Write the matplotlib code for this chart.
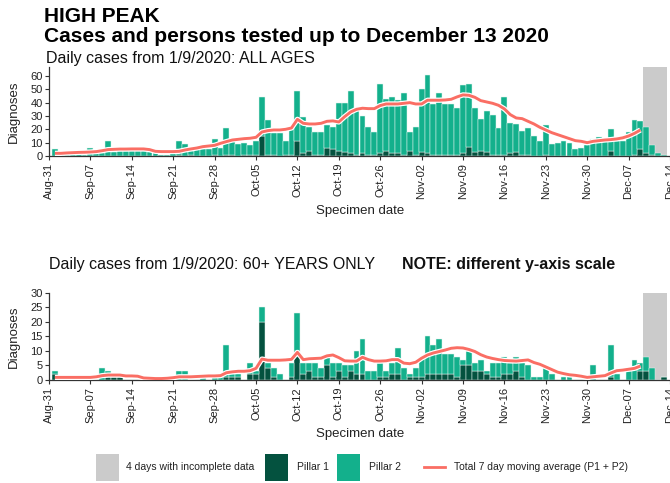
import matplotlib
matplotlib.use("Agg")
import matplotlib.pyplot as plt
import matplotlib.dates as mdates
import matplotlib.patheffects as pe
from matplotlib.patches import Rectangle
from matplotlib.lines import Line2D
import pandas as pd
import numpy as np

plt.rcParams["font.family"] = ["Liberation Sans", "DejaVu Sans"]

# Specimen dates: 1 Sep 2020 .. 13 Dec 2020
dates = pd.date_range("2020-09-01", "2020-12-13", freq="D")

# ---- All ages ----
all_total = [
    5, 2, 1, 2, 2, 1, 6, 2, 2, 11, 3, 4, 4, 4, 4, 4, 3, 2, 1, 1, 2,
    11, 9, 4, 5, 5, 5, 13, 6, 21, 13, 9, 10, 8, 11,
    44, 27, 17, 17, 11, 20, 49, 29, 22, 18, 18, 23, 22,
    40, 40, 49, 35, 30, 22, 18, 54, 43, 44, 42, 47, 18, 22,
    50, 61, 39, 47, 39, 39, 36, 53, 54, 36, 28, 34, 31, 21,
    44, 25, 24, 19, 21, 15, 11, 23, 9, 10, 11, 10, 5, 6,
    8, 13, 14, 11, 20, 11, 11, 18, 27, 26, 22, 8, 2, 1,
]
all_pillar1 = [
    0, 0, 0, 0, 0, 0, 0, 0, 0, 0, 0, 0, 0, 0, 0, 0, 0, 0, 0, 0, 0,
    1, 0, 1, 0, 0, 0, 1, 0, 1, 1, 0, 1, 1, 1,
    15, 1, 1, 0, 1, 1, 11, 2, 4, 1, 1, 6, 5,
    4, 3, 2, 1, 2, 1, 1, 2, 4, 2, 2, 1, 4, 1,
    3, 2, 1, 1, 1, 1, 1, 2, 7, 3, 4, 3, 1, 1,
    1, 2, 3, 1, 1, 0, 0, 1, 0, 0, 0, 0, 0, 0,
    0, 0, 0, 0, 4, 0, 0, 0, 1, 5, 2, 1, 0, 0,
]
all_avg = [
    2.0, 2.0, 2.3, 2.5, 2.7, 2.8, 3.0, 3.3, 4.0, 4.8, 5.0, 5.2, 5.2, 5.3,
    5.3, 5.3, 4.8, 3.5, 3.3, 3.3, 3.3, 3.5, 4.5, 5.3, 6.0, 7.0, 7.5, 8.0,
    9.5, 10.8, 12.0, 12.5, 13.0, 13.3, 14.0, 18.0, 19.0, 19.5, 19.5, 20.0,
    21.0, 27.5, 24.5, 24.0, 24.0, 24.5, 26.0, 26.3, 25.5, 29.5, 33.0, 35.0,
    35.8, 35.5, 35.5, 37.8, 39.0, 39.0, 39.0, 39.5, 40.0, 39.0, 39.0, 41.8,
    41.8, 41.8, 42.0, 42.5, 44.3, 45.8, 45.5, 44.0, 41.5, 40.5, 39.5, 38.0,
    35.3, 31.0, 28.5, 28.0, 26.0, 24.0, 21.5, 19.5, 17.5, 16.0, 14.5, 13.0,
    11.5, 11.0, 10.0, 11.0, 11.5, 12.0, 12.3, 12.8, 13.6, 15.0, 17.0, 19.5,
]

# ---- 60+ years ----
old_total = [
    3, 0, 0, 0, 0, 0, 0, 0, 4, 3, 1, 1, 0, 0, 0, 0, 0, 0, 0, 0, 0,
    3, 3, 0, 0, 1, 0, 1, 1, 12, 2, 2, 0, 6, 3,
    25, 6, 4, 2, 0, 6, 23, 6, 6, 6, 4, 8, 6,
    6, 5, 5, 10, 14, 3, 3, 6, 3, 6, 11, 4, 2, 4,
    8, 15, 12, 14, 9, 9, 8, 7, 10, 6, 7, 3, 6, 6,
    8, 6, 8, 6, 5, 1, 1, 4, 2, 0, 1, 1, 0, 0,
    0, 5, 0, 0, 12, 2, 0, 3, 7, 6, 8, 4, 0, 1,
]
old_pillar1 = [
    2, 0, 0, 0, 0, 0, 0, 0, 0, 1, 1, 1, 0, 0, 0, 0, 0, 0, 0, 0, 0,
    0, 0, 0, 0, 0, 0, 0, 0, 1, 1, 1, 0, 2, 2,
    20, 4, 1, 0, 0, 1, 10, 2, 3, 1, 1, 5, 1,
    3, 1, 3, 2, 2, 0, 0, 1, 1, 2, 2, 0, 1, 1,
    1, 2, 2, 2, 2, 2, 1, 5, 5, 3, 3, 2, 1, 1,
    2, 2, 3, 1, 0, 0, 0, 0, 0, 0, 0, 0, 0, 0,
    0, 0, 0, 0, 1, 0, 0, 0, 0, 3, 3, 0, 0, 1,
]
old_avg = [
    0.9, 0.9, 0.9, 0.9, 0.9, 0.9, 0.9, 1.1, 1.5, 1.7, 1.7, 1.7, 1.4, 1.4,
    1.3, 0.7, 0.6, 0.5, 0.5, 0.6, 0.8, 1.1, 1.1, 1.1, 1.2, 1.3, 1.4, 1.4,
    1.5, 2.5, 2.8, 3.0, 3.0, 3.2, 4.0, 7.2, 6.8, 6.8, 6.8, 6.9, 7.1, 9.5,
    7.0, 7.3, 7.4, 7.5, 8.3, 8.6, 7.7, 6.6, 6.5, 6.5, 7.8, 7.0, 6.5, 6.5,
    6.6, 7.0, 7.0, 5.8, 5.6, 6.1, 7.5, 8.6, 9.3, 9.8, 10.3, 10.9, 11.1, 11.0,
    10.5, 9.8, 8.7, 7.9, 7.4, 7.0, 6.7, 6.6, 6.5, 6.7, 6.9, 6.0, 5.4, 4.5,
    3.6, 2.7, 2.2, 1.8, 1.6, 1.3, 0.9, 1.1, 1.3, 1.5, 2.4, 3.2, 3.4, 3.7,
    4.0, 4.8,
]

incomplete_start = pd.Timestamp("2020-12-10")
incomplete_end = pd.Timestamp("2020-12-13")
tick_dates = pd.date_range("2020-08-31", "2020-12-14", freq="7D")

C_P1 = "#04523f"
C_P2 = "#13b08c"
C_AVG = "#fa6e64"
C_GREY = "#cbcbcb"
C_AXIS = "#333333"

W, H = 670, 483
fig = plt.figure(figsize=(W / 100, H / 100), dpi=100)


def fx(px):
    return px / W


def fy(py):
    return 1 - py / H


def panel(top_px, bottom_px, total, p1, avg, ymax, yticks):
    ax = fig.add_axes([fx(49), fy(bottom_px), fx(670 - 49), (bottom_px - top_px) / H])
    total = np.array(total, dtype=float)
    p1 = np.array(p1, dtype=float)
    p2 = total - p1
    one_day = pd.Timedelta(days=1)
    ax.axvspan(incomplete_start - one_day / 2, incomplete_end + one_day / 2,
               color=C_GREY, lw=0, zorder=0)
    ax.bar(dates, p1, width=1.0, color=C_P1, edgecolor="#dff3ee", linewidth=0.35, zorder=2)
    ax.bar(dates, p2, bottom=p1, width=1.0, color=C_P2, edgecolor="#dff3ee",
           linewidth=0.35, zorder=2)
    ax.plot(dates[:len(avg)], avg, color=C_AVG, lw=2.1, zorder=4,
            solid_capstyle="butt",
            path_effects=[pe.Stroke(linewidth=3.8, foreground="white"), pe.Normal()])
    ax.set_xlim(pd.Timestamp("2020-08-31"), pd.Timestamp("2020-12-14"))
    ax.set_ylim(0, ymax)
    ax.set_yticks(yticks)
    ax.set_xticks(tick_dates)
    ax.xaxis.set_major_formatter(mdates.DateFormatter("%b-%d"))
    ax.tick_params(axis="x", rotation=90, labelsize=8, colors=C_AXIS, length=3, width=0.8, pad=2)
    ax.tick_params(axis="y", labelsize=8, colors=C_AXIS, length=3, width=0.8, pad=1.5)
    for lab in ax.get_xticklabels() + ax.get_yticklabels():
        lab.set_color("#222222")
    for s in ("top", "right"):
        ax.spines[s].set_visible(False)
    for s in ("left", "bottom"):
        ax.spines[s].set_color(C_AXIS)
        ax.spines[s].set_linewidth(0.9)
    ax.set_facecolor("white")
    return ax


ax1 = panel(67, 156, all_total, all_pillar1, all_avg, 66.7, range(0, 61, 10))
ax2 = panel(292.7, 380, old_total, old_pillar1, old_avg, 30, range(0, 31, 5))

# Titles
title_x = 44
fig.text(fx(title_x), fy(16), "HIGH PEAK", fontsize=15, fontweight="bold", va="center", ha="left")
fig.text(fx(title_x), fy(36), "Cases and persons tested up to December 13 2020", fontsize=15,
         fontweight="bold", va="center", ha="left")
fig.text(fx(title_x + 2), fy(59), "Daily cases from 1/9/2020: ALL AGES", fontsize=11.5,
         va="center", ha="left", color="#111111")
fig.text(fx(49), fy(265), "Daily cases from 1/9/2020: 60+ YEARS ONLY", fontsize=11.5,
         va="center", ha="left", color="#111111")
fig.text(fx(402), fy(265), "NOTE: different y-axis scale", fontsize=11.5, fontweight="bold",
         va="center", ha="left", color="#111111")

# Axis titles
for yc in ((67 + 156) / 2, (292.7 + 380) / 2):
    fig.text(fx(14), fy(yc), "Diagnoses", rotation=90, fontsize=9.5, va="center",
             ha="center", color="#222222")
for yc in (211, 434):
    fig.text(fx(360), fy(yc), "Specimen date", fontsize=9.5, va="center", ha="center",
             color="#222222")

# Legend
leg_y = 467
sq_w, sq_h = 23, 27
items = [
    ("patch", C_GREY, 96, "4 days with incomplete data", 126),
    ("patch", C_P1, 265, "Pillar 1", 297),
    ("patch", C_P2, 337, "Pillar 2", 369),
]
for kind, col, x0, label, tx in items:
    fig.add_artist(Rectangle((fx(x0), fy(leg_y + sq_h / 2)), sq_w / W, sq_h / H,
                             transform=fig.transFigure, facecolor=col, edgecolor="none"))
    fig.text(fx(tx), fy(leg_y), label, fontsize=7.5, va="center", ha="left", color="#222222")
fig.add_artist(Line2D([fx(424), fx(445)], [fy(leg_y), fy(leg_y)], transform=fig.transFigure,
                      color=C_AVG, lw=2.0))
fig.text(fx(454), fy(leg_y), "Total 7 day moving average (P1 + P2)", fontsize=7.5,
         va="center", ha="left", color="#222222")

fig.savefig("out.png", dpi=100)
